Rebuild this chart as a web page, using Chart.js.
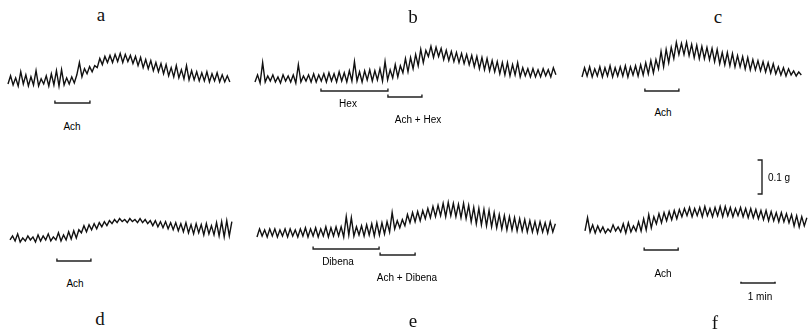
<!DOCTYPE html>
<html>
<head>
<meta charset="utf-8">
<script src="https://cdn.jsdelivr.net/npm/chart.js@4.4.1/dist/chart.umd.min.js"></script>
<style>
body { margin: 0; background: #fff; }
#fig { position: relative; width: 808px; height: 332px; overflow: hidden; background: #fff; }
#fig canvas { position: absolute; }
.lab { position: absolute; font-family: "Liberation Sans", Arial, sans-serif; font-size: 10px; color: #000; transform: translate(-50%, -50%); white-space: nowrap; }
.let { position: absolute; font-family: "Liberation Serif", "Times New Roman", serif; font-size: 19px; color: #111; transform: translate(-50%, -50%); }
</style>
</head>
<body>
<div id="fig"></div>
<script>
// isometric tension, mg above resting level, one sample every 4.5 s
var step = 4.5 / 60; // min

var traceA = [6, 30, 3, 24, 0, 42, 6, 33, 0, 27, 3, 45, 0, 21, 6, 30, 0, 36, 3, 45, 0,
  48, 3, 24, 6, 27, 9, 33, 69, 27, 51, 36, 57, 42, 60, 54, 81, 63, 87, 69, 90,
  69, 93, 72, 96, 69, 93, 72, 90, 66, 87, 60, 84, 54, 78, 51, 75, 45, 69, 42, 66,
  36, 63, 30, 54, 27, 60, 24, 48, 21, 60, 18, 45, 18, 42, 15, 39, 15, 42, 12, 36,
  15, 39, 12, 33, 12, 30, 12];
var traceB = [3, 24, 0, 60, 3, 21, 6, 24, 3, 18, 0, 24, 6, 21, 3, 24, 0, 54, 3, 21, 6, 24, 3, 27, 3, 24,
  6, 27, 3, 30, 6, 27, 3, 33, 6, 30, 3, 36, 6, 63, 6, 33, 3, 36, 9, 39, 6, 36, 9, 42, 6, 63, 9,
  39, 15, 54, 18, 51,
  30, 72, 33, 75, 42, 84,
  51, 99, 60, 96,
  78, 108, 75, 105, 78, 102,
  69, 96, 66, 93, 63, 90, 60, 87, 57, 84, 54,
  81, 48, 78, 42, 75, 39, 72, 36, 66, 33, 63, 27,
  60, 24, 60, 21, 54, 24, 60, 18, 45, 21, 42, 18,
  42, 18, 39, 18, 42, 21, 39, 18, 45, 24];
var traceC = [0, 27, 3, 30, 0, 24, 3, 30, 0, 27, 3, 33, 0, 27, 3, 30, 3, 33, 0, 30, 6, 33, 3, 36, 6, 42, 9,
  48, 12, 51, 24,
  75, 30, 81, 42, 87, 54,
  102, 66, 99, 66, 102, 63,
  96, 57, 93, 54, 90, 54, 87, 51, 84, 45, 81, 39,
  72, 36, 72, 33, 69, 30, 63, 30, 60, 24, 57, 21,
  51, 21, 48, 18, 45, 15, 42, 12, 39, 9, 30,
  6, 27, 3, 24, 6, 18, 3, 15, 6];
var traceD = [6, 18, 3, 24, 0, 12, 3, 18, 6, 15, 0, 21, 3, 18, 6, 24, 3, 15, 6, 27, 3, 21, 6,
  30, 9, 33, 12, 36,
  27, 48, 30, 51, 36, 54, 39, 57,
  45, 60, 48, 63, 54,
  66, 57, 69, 60, 66, 57, 69, 60, 66, 57, 69, 57, 66, 54,
  63, 48, 63, 45, 60, 42, 60, 39, 57, 36, 57, 33,
  54, 30, 57, 27, 51, 24, 54, 27, 51, 21, 54, 24, 48, 21, 57, 18, 60, 15, 63, 18, 60];
var traceE = [0, 24, 3, 21, 0, 24, 3, 24, 0, 21, 3, 24, 0, 24, 3, 21, 0, 24, 3, 27, 0, 24,
  3, 27, 0, 24, 3, 30, 0, 27, 3, 30, 3, 30, 0, 60, 6, 57, 3, 30, 6, 33, 3, 36, 6, 39, 3, 42, 6,
  42, 9, 45, 15,
  72,
  24, 48, 27, 51, 33,
  66, 42, 72, 45, 75, 48, 78, 54, 84, 57,
  90, 60, 93, 63, 99, 60, 102, 63, 99, 60, 96, 57, 99, 54, 93,
  45, 87, 39, 84, 36, 81, 33, 78, 30, 72, 27, 66,
  24, 63, 21, 60, 21, 57, 18, 54, 18, 51, 15, 48,
  15, 45, 12, 45, 15, 42, 12, 45, 15, 39];
var traceF = [6, 45, 3, 24, 0, 21, 3, 18, 0, 12, 3, 24, 6, 18, 3, 27, 0, 30, 3, 21, 6, 33,
  6, 42, 9, 54, 15, 48,
  27, 57, 30, 60, 36, 63, 39, 66, 42, 69,
  48, 72, 51, 75, 48, 72, 51, 75, 48, 78, 51, 72, 48, 75, 51, 78, 48, 78, 51, 75, 48, 72, 51, 75, 48, 72, 45, 72, 45, 69, 42,
  66, 39, 66, 36, 63, 36, 60, 33, 60, 33, 57, 30,
  54, 21, 51, 18, 48, 21, 45];

// drug application periods, min from start of each record
var barsA = [[1.38, 2.41]];
var barsB = [[1.94, 3.91], [3.91, 4.91]];
var barsC = [[1.85, 2.85]];
var barsD = [[1.38, 2.38]];
var barsE = [[1.65, 3.59], [3.62, 4.65]];
var barsF = [[1.74, 2.74]];
var drugsA = ['Ach'];
var drugsB = ['Hex', 'Ach + Hex'];
var drugsC = ['Ach'];
var drugsD = ['Ach'];
var drugsE = ['Dibena', 'Ach + Dibena'];
var drugsF = ['Ach'];
var panelNames = ['a', 'b', 'c', 'd', 'e', 'f'];

// calibration
var calMin = 1;    // min
var calG = 0.1;    // g

var PX_MIN = 34;   // px per minute
var PX_MG = 0.34;  // px per mg

var fig = document.getElementById('fig');

function text(cls, s, x, y) {
  var d = document.createElement('div');
  d.className = cls;
  d.textContent = s;
  d.style.left = x + 'px';
  d.style.top = y + 'px';
  fig.appendChild(d);
}

function bracket(b, y, up) {
  return [{x: b[0], y: y + up}, {x: b[0], y: y}, {x: b[1], y: y}, {x: b[1], y: y + up}];
}

function panel(p) {
  var c = document.createElement('canvas');
  c.width = p.w; c.height = p.h;
  c.style.left = p.left + 'px';
  c.style.top = p.top + 'px';
  fig.appendChild(c);

  var tMin = -(p.x0 - p.left) / PX_MIN;
  var yMin = -(p.top + p.h - p.base) / PX_MG;

  var ds = [{
    data: p.trace.map(function (v, i) { return {x: i * step, y: v}; }),
    borderColor: '#111',
    borderWidth: 1.4
  }];
  p.bars.forEach(function (b, k) {
    ds.push({
      data: bracket(b, (p.base - p.barY[k]) / PX_MG, 7),
      borderColor: '#222',
      borderWidth: 1.4
    });
  });
  if (p.cal) {
    var q = p.cal;
    var gx = (q.gx - p.x0) / PX_MIN;
    var gy = (p.base - q.gy) / PX_MG;
    ds.push({
      data: [{x: gx - 0.13, y: gy}, {x: gx, y: gy}, {x: gx, y: gy + calG * 1000}, {x: gx - 0.13, y: gy + calG * 1000}],
      borderColor: '#222', borderWidth: 1.4
    });
    var tx = (q.tx - p.x0) / PX_MIN;
    ds.push({
      data: bracket([tx, tx + calMin], (p.base - q.ty) / PX_MG, 4),
      borderColor: '#222', borderWidth: 1.6
    });
  }

  new Chart(c, {
    type: 'line',
    data: {datasets: ds},
    options: {
      responsive: false,
      animation: false,
      devicePixelRatio: 1,
      layout: {padding: 0},
      elements: {point: {radius: 0}, line: {tension: 0}},
      plugins: {legend: {display: false}, tooltip: {enabled: false}},
      scales: {
        x: {type: 'linear', display: false, min: tMin, max: tMin + p.w / PX_MIN},
        y: {type: 'linear', display: false, min: yMin, max: yMin + p.h / PX_MG}
      }
    }
  });

  p.drugs.forEach(function (s, k) { text('lab', s, p.labXY[k][0], p.labXY[k][1]); });
}

var panels = [
  {trace: traceA, bars: barsA, drugs: drugsA, left: 0, top: 40, w: 250, h: 75, x0: 8, base: 86,
   barY: [103], labXY: [[72, 126]], name: [101, 15]},
  {trace: traceB, bars: barsB, drugs: drugsB, left: 250, top: 35, w: 315, h: 75, x0: 255, base: 83,
   barY: [91, 97], labXY: [[348, 103], [418, 119]], name: [413, 17]},
  {trace: traceC, bars: barsC, drugs: drugsC, left: 570, top: 30, w: 238, h: 70, x0: 582, base: 77,
   barY: [91], labXY: [[663, 112]], name: [718, 17]},
  {trace: traceD, bars: barsD, drugs: drugsD, left: 0, top: 200, w: 250, h: 70, x0: 10, base: 242,
   barY: [261], labXY: [[75, 283]], name: [100, 319]},
  {trace: traceE, bars: barsE, drugs: drugsE, left: 250, top: 190, w: 315, h: 75, x0: 257, base: 237,
   barY: [249, 255], labXY: [[338, 261], [407, 277]], name: [413, 321]},
  {trace: traceF, bars: barsF, drugs: drugsF, left: 570, top: 150, w: 238, h: 145, x0: 585, base: 233,
   barY: [250], labXY: [[663, 273]], name: [715, 323],
   cal: {gx: 762, gy: 194, tx: 741, ty: 283}}
];

panels.forEach(function (p, i) {
  panel(p);
  text('let', panelNames[i], p.name[0], p.name[1]);
});
text('lab', calG + ' g', 779, 177);
text('lab', calMin + ' min', 760, 296);
</script>
</body>
</html>
